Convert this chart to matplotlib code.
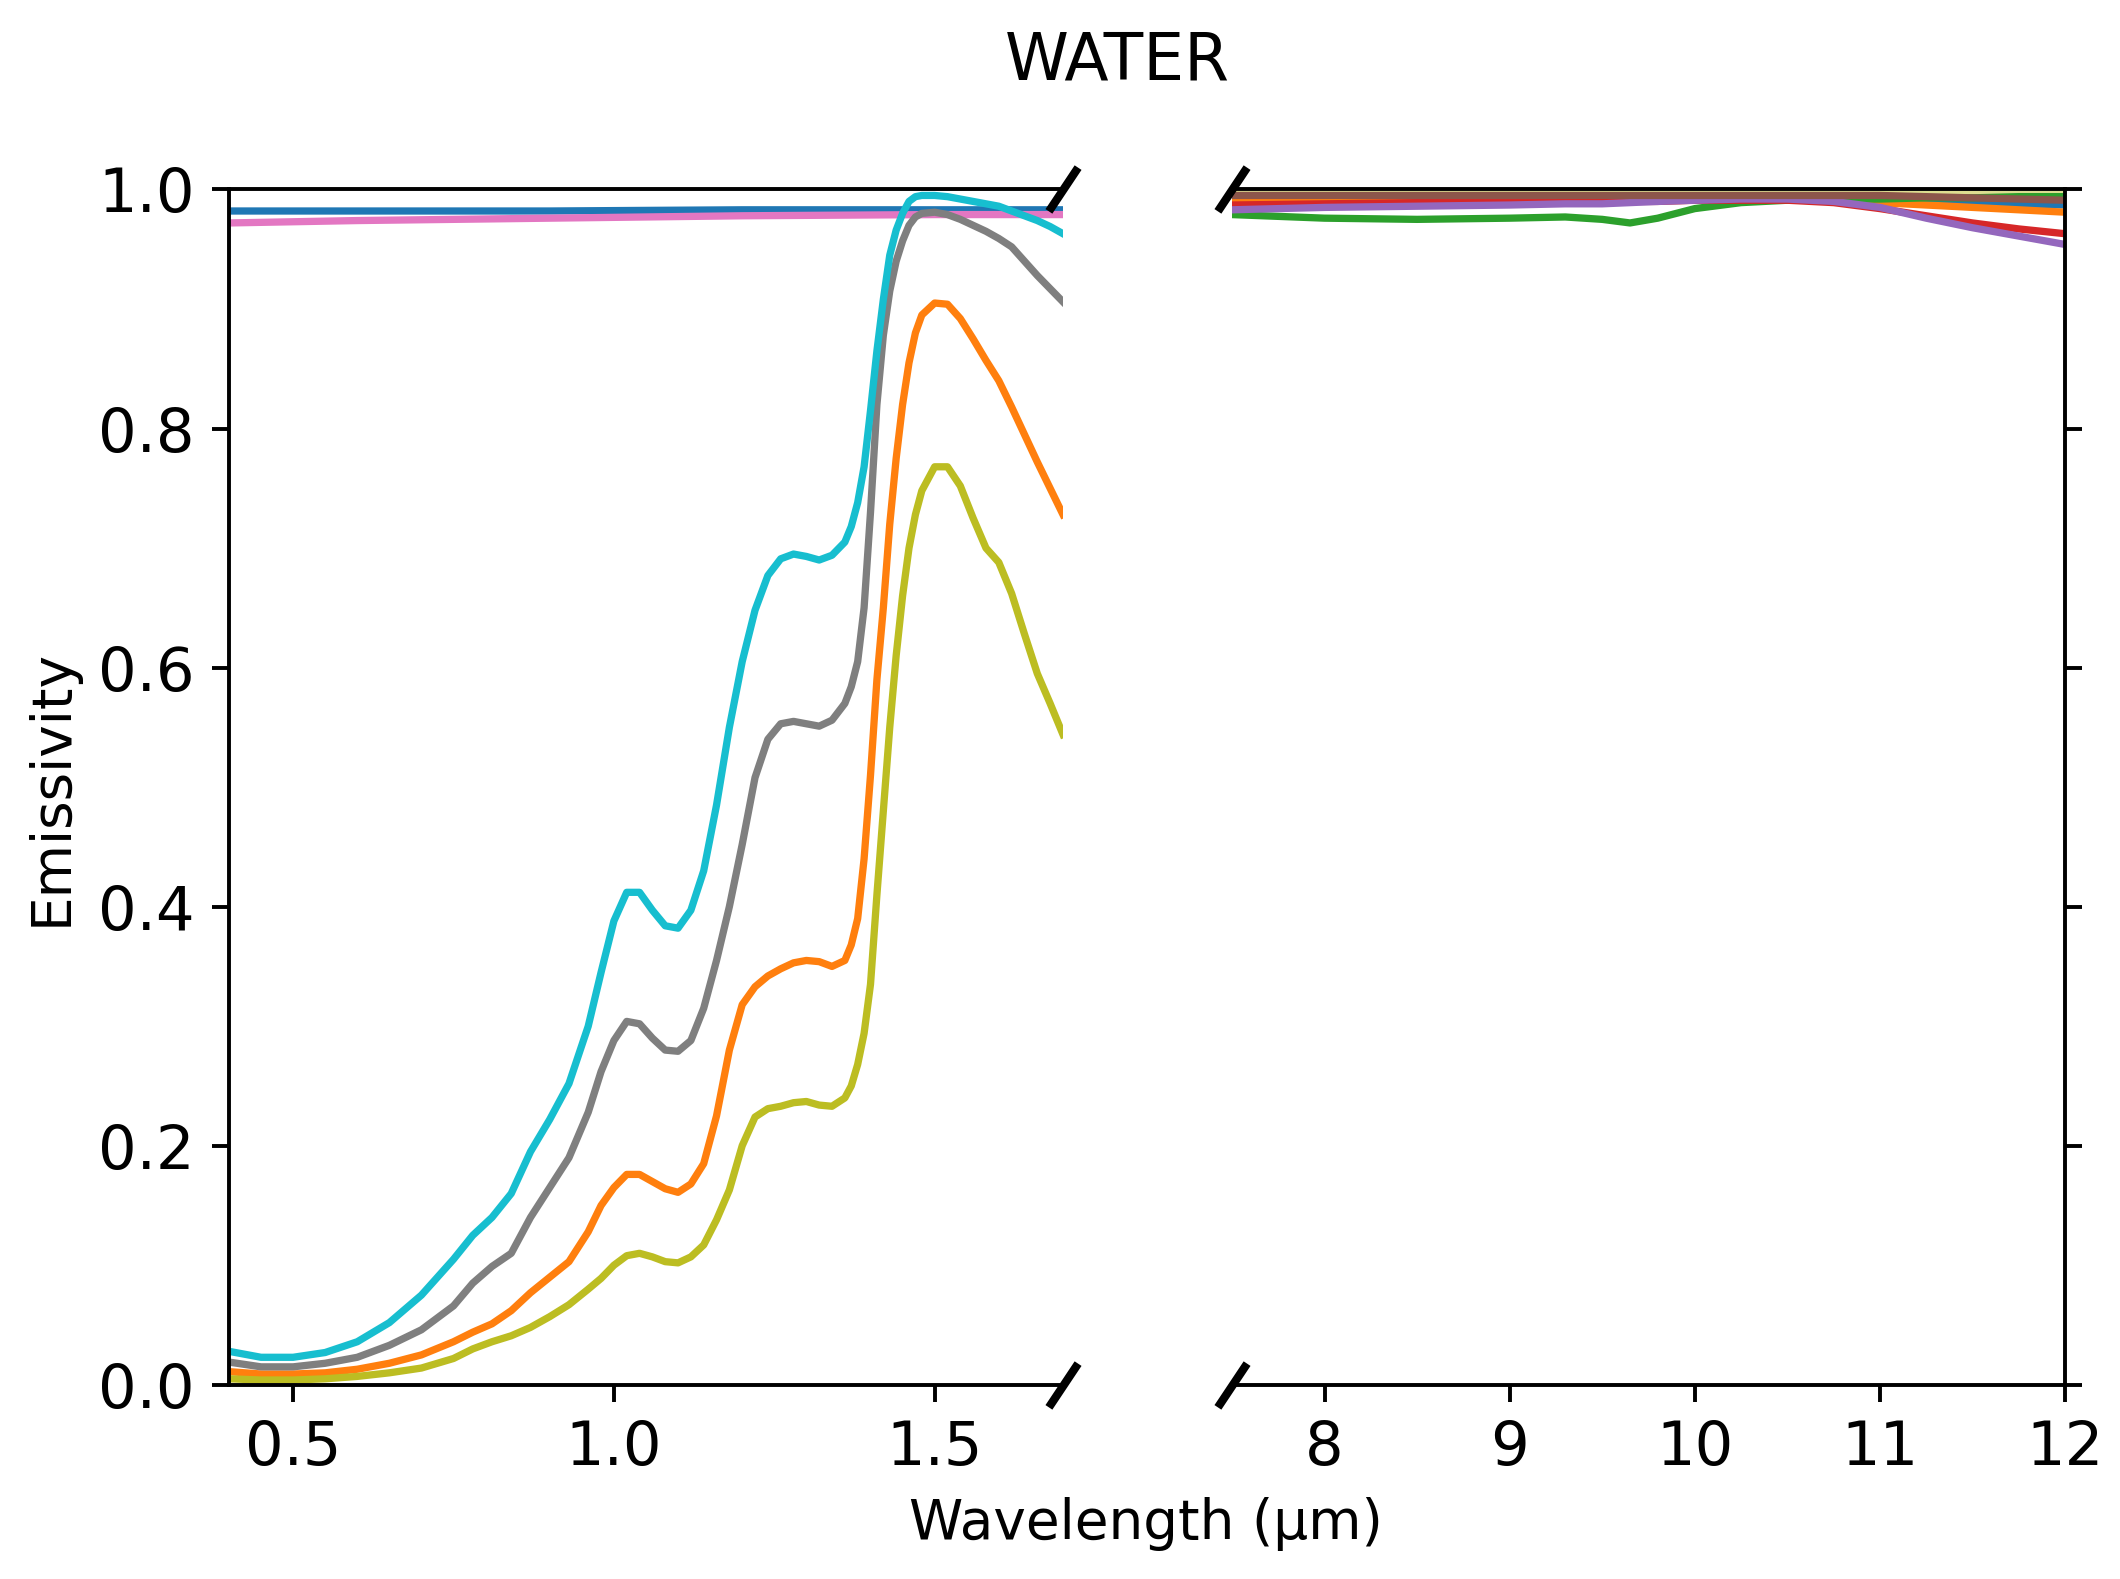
import matplotlib
matplotlib.use("Agg")
import matplotlib.pyplot as plt

# ---------------- DATA ----------------
# visible / near-IR part (left panel)
wl_vis = [0.40, 0.45, 0.50, 0.55, 0.60, 0.65, 0.70, 0.75, 0.78, 0.81,
          0.84, 0.87, 0.90, 0.93, 0.96, 0.98, 1.00, 1.02, 1.04, 1.06,
          1.08, 1.10, 1.12, 1.14, 1.16, 1.18, 1.20, 1.22, 1.24, 1.26,
          1.28, 1.30, 1.32, 1.34, 1.36, 1.37, 1.38, 1.39, 1.40, 1.41,
          1.42, 1.43, 1.44, 1.45, 1.46, 1.47, 1.48, 1.50, 1.52, 1.54,
          1.56, 1.58, 1.60, 1.62, 1.64, 1.66, 1.68, 1.70]

cyan_vis = [0.028, 0.023, 0.023, 0.027, 0.036, 0.052, 0.075, 0.105, 0.125, 0.140,
            0.160, 0.195, 0.222, 0.252, 0.300, 0.345, 0.388, 0.412, 0.412, 0.397,
            0.384, 0.382, 0.397, 0.430, 0.485, 0.550, 0.605, 0.648, 0.677, 0.691,
            0.695, 0.693, 0.690, 0.694, 0.705, 0.718, 0.738, 0.768, 0.815, 0.865,
            0.908, 0.945, 0.966, 0.980, 0.990, 0.994, 0.995, 0.995, 0.994, 0.992,
            0.990, 0.988, 0.986, 0.982, 0.978, 0.974, 0.969, 0.963]
gray_vis = [0.019, 0.015, 0.015, 0.018, 0.023, 0.033, 0.046, 0.066, 0.085, 0.099,
            0.110, 0.140, 0.165, 0.190, 0.228, 0.262, 0.288, 0.304, 0.302, 0.290,
            0.280, 0.279, 0.288, 0.315, 0.355, 0.400, 0.452, 0.508, 0.540, 0.553,
            0.555, 0.553, 0.551, 0.556, 0.570, 0.584, 0.605, 0.650, 0.730, 0.820,
            0.878, 0.915, 0.940, 0.957, 0.970, 0.977, 0.980, 0.981, 0.979, 0.975,
            0.970, 0.965, 0.959, 0.952, 0.940, 0.928, 0.917, 0.906]
orange_vis = [0.011, 0.009, 0.009, 0.010, 0.013, 0.018, 0.025, 0.036, 0.044, 0.051,
              0.062, 0.077, 0.090, 0.103, 0.128, 0.150, 0.165, 0.176, 0.176, 0.170,
              0.164, 0.161, 0.168, 0.185, 0.225, 0.280, 0.318, 0.333, 0.342, 0.348,
              0.353, 0.355, 0.354, 0.350, 0.355, 0.368, 0.390, 0.440, 0.510, 0.590,
              0.650, 0.720, 0.775, 0.820, 0.855, 0.880, 0.895, 0.905, 0.904, 0.892,
              0.875, 0.857, 0.840, 0.818, 0.795, 0.772, 0.750, 0.728]
olive_vis = [0.005, 0.004, 0.004, 0.005, 0.007, 0.010, 0.014, 0.022, 0.030, 0.036,
             0.041, 0.048, 0.057, 0.067, 0.080, 0.089, 0.100, 0.108, 0.110, 0.107,
             0.103, 0.102, 0.107, 0.117, 0.138, 0.163, 0.200, 0.224, 0.231, 0.233,
             0.236, 0.237, 0.234, 0.233, 0.240, 0.250, 0.268, 0.294, 0.335, 0.410,
             0.480, 0.550, 0.610, 0.660, 0.700, 0.728, 0.748, 0.768, 0.768, 0.752,
             0.725, 0.700, 0.688, 0.662, 0.628, 0.595, 0.570, 0.544]

wl_flat = [0.40, 0.60, 0.90, 1.20, 1.50, 1.70]
blue_vis = [0.982, 0.982, 0.982, 0.983, 0.983, 0.983]
pink_vis = [0.972, 0.974, 0.976, 0.978, 0.979, 0.979]

# thermal IR part (right panel)
wl_tir = [7.5, 8.0, 8.5, 9.0, 9.3, 9.5, 9.65, 9.8, 10.0, 10.25, 10.5, 10.75,
          11.0, 11.25, 11.5, 11.75, 12.0]
blue_tir = [0.992, 0.992, 0.992, 0.992, 0.992, 0.992, 0.992, 0.992, 0.992, 0.992, 0.992, 0.992,
            0.991, 0.990, 0.989, 0.988, 0.987]
orange_tir = [0.990, 0.990, 0.991, 0.991, 0.991, 0.991, 0.991, 0.991, 0.992, 0.992, 0.992, 0.991,
              0.989, 0.987, 0.985, 0.983, 0.981]
green_tir = [0.979, 0.976, 0.975, 0.976, 0.977, 0.975, 0.972, 0.976, 0.984, 0.989, 0.991, 0.992,
             0.992, 0.993, 0.993, 0.994, 0.994]
red_tir = [0.987, 0.988, 0.989, 0.989, 0.990, 0.990, 0.990, 0.990, 0.991, 0.991, 0.991, 0.989,
           0.984, 0.978, 0.972, 0.967, 0.963]
purple_tir = [0.983, 0.985, 0.986, 0.987, 0.988, 0.988, 0.989, 0.990, 0.991, 0.992, 0.992, 0.990,
              0.985, 0.976, 0.968, 0.961, 0.954]
olive_tir = [0.996, 0.996, 0.996, 0.996, 0.996, 0.996, 0.996, 0.996, 0.996, 0.996, 0.996, 0.996,
             0.996, 0.996, 0.996, 0.996, 0.996]
brown_tir = [0.995, 0.995, 0.995, 0.995, 0.995, 0.995, 0.995, 0.995, 0.995, 0.995, 0.995, 0.995,
             0.995, 0.994, 0.993, 0.992, 0.991]

# ---------------- FIGURE ----------------
fig = plt.figure(figsize=(2120 / 350, 1579 / 350), dpi=350)
ax1 = fig.add_axes([0.108, 0.123, 0.3934, 0.757])
ax2 = fig.add_axes([0.5811, 0.123, 0.3930, 0.757])

# left panel
ax1.plot(wl_flat, blue_vis, color="C0")
ax1.plot(wl_vis, orange_vis, color="C1")
ax1.plot(wl_flat, pink_vis, color="C6")
ax1.plot(wl_vis, gray_vis, color="C7")
ax1.plot(wl_vis, olive_vis, color="C8")
ax1.plot(wl_vis, cyan_vis, color="C9")

# right panel
ax2.plot(wl_tir, olive_tir, color="C8", alpha=0.5)
ax2.plot(wl_tir, blue_tir, color="C0")
ax2.plot(wl_tir, orange_tir, color="C1")
ax2.plot(wl_tir, green_tir, color="C2")
ax2.plot(wl_tir, red_tir, color="C3")
ax2.plot(wl_tir, purple_tir, color="C4")
ax2.plot(wl_tir, brown_tir, color="C5")

ax1.set_xlim(0.4, 1.7)
ax2.set_xlim(7.5, 12)
for ax in (ax1, ax2):
    ax.set_ylim(0, 1.0)
    ax.tick_params(labelsize=12.5)

ax1.set_xticks([0.5, 1.0, 1.5])
ax2.set_xticks([8, 9, 10, 11, 12])

ax1.spines["right"].set_visible(False)
ax2.spines["left"].set_visible(False)
ax1.yaxis.tick_left()
ax2.yaxis.tick_right()
ax2.tick_params(labelright=False)

# diagonal break marks
d = 1.5
kw = dict(marker=[(-1, -d), (1, d)], markersize=9, linestyle="none",
          color="k", mec="k", mew=1.7, clip_on=False)
ax1.plot([1, 1], [0, 1], transform=ax1.transAxes, **kw)
ax2.plot([0, 0], [0, 1], transform=ax2.transAxes, **kw)

ax1.set_ylabel("Emissivity", fontsize=11.3, labelpad=4)
fig.text(0.5406, 0.035, "Wavelength (µm)", ha="center", va="center", fontsize=11.3)
fig.suptitle("WATER", x=0.527, y=0.961, va="center", fontsize=13.3)

fig.savefig("out.png", dpi=350)
